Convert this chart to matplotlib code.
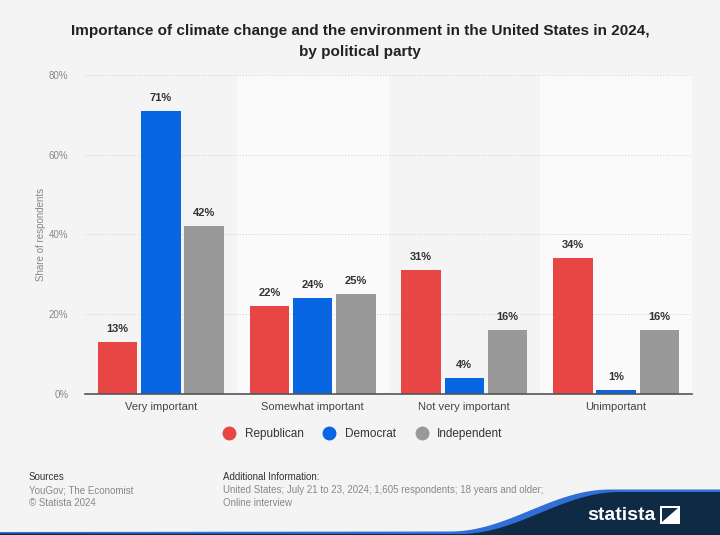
import matplotlib.pyplot as plt
import numpy as np
from matplotlib.patches import Polygon

categories = ['Very important', 'Somewhat important', 'Not very important', 'Unimportant']
parties = ['Republican', 'Democrat', 'Independent']
republican = [13, 22, 31, 34]
democrat = [71, 24, 4, 1]
independent = [42, 25, 16, 16]
yticks = [0, 20, 40, 60, 80]

colors = ['#e84545', '#0866e3', '#999999']
bg = '#f4f4f4'

plt.rcParams['font.family'] = ['Liberation Sans', 'DejaVu Sans']

fig = plt.figure(figsize=(7.2, 5.35), dpi=100, facecolor=bg)
ax = fig.add_axes([0.118, 0.2636, 0.843, 0.5964])
ax.set_facecolor(bg)

x = np.arange(len(categories))
# lighter bands behind every second category
for i in x:
    if i % 2 == 1:
        ax.axvspan(i - 0.5, i + 0.5, color='#fafafa', zorder=0)

w = 0.26
step = 0.285
for k, (vals, c) in enumerate(zip([republican, democrat, independent], colors)):
    pos = x + (k - 1) * step
    ax.bar(pos, vals, width=w, color=c, zorder=3, label=parties[k])
    for p, v in zip(pos, vals):
        ax.text(p, v + 2, f'{v}%', ha='center', va='bottom', fontsize=8,
                fontweight='bold', color='#333333', zorder=4)

ax.set_xlim(-0.5, 3.5)
ax.set_ylim(0, 80)
ax.set_yticks(yticks)
ax.set_yticklabels([f'{t}%' for t in yticks], fontsize=7, color='#888888')
ax.set_xticks(x)
ax.set_xticklabels(categories, fontsize=8, color='#444444')
ax.tick_params(axis='both', length=0, pad=6)
ax.tick_params(axis='y', pad=12)
ax.grid(axis='y', color='#cccccc', linestyle=(0, (1, 2)), linewidth=0.7, zorder=1)
for s in ['top', 'right', 'left']:
    ax.spines[s].set_visible(False)
ax.spines['bottom'].set_color('#555555')
ax.spines['bottom'].set_linewidth(1.2)
ax.spines['bottom'].set_zorder(5)
ax.set_ylabel('Share of respondents', fontsize=7, color='#888888', labelpad=2)

leg = fig.legend(handles=[plt.Line2D([], [], marker='o', linestyle='', markersize=9,
                                     color=c, label=p) for c, p in zip(colors, parties)],
                 loc='center', bbox_to_anchor=(0.5, 0.188), ncol=3, frameon=False,
                 fontsize=8.5, handletextpad=0.3, columnspacing=1.2)
for t in leg.get_texts():
    t.set_color('#333333')

fig.text(0.5, 0.955, 'Importance of climate change and the environment in the United States in 2024,\nby political party',
         ha='center', va='top', fontsize=11, fontweight='bold', color='#222222', linespacing=1.6)

fig.text(0.04, 0.108, 'Sources', fontsize=7, color='#333333', va='center')
fig.text(0.04, 0.084, 'YouGov; The Economist', fontsize=7, color='#888888', va='center')
fig.text(0.04, 0.060, '\u00a9 Statista 2024', fontsize=7, color='#888888', va='center')
fig.text(0.31, 0.108, 'Additional Information:', fontsize=7, color='#333333', va='center')
fig.text(0.31, 0.084, 'United States; July 21 to 23, 2024; 1,605 respondents; 18 years and older;',
         fontsize=7, color='#888888', va='center')
fig.text(0.31, 0.060, 'Online interview', fontsize=7, color='#888888', va='center')

# footer logo swoosh
fa = fig.add_axes([0, 0, 1, 0.1], zorder=-1)
fa.set_xlim(0, 720)
fa.set_ylim(0, 53.5)
fa.axis('off')
xs = np.linspace(450, 610, 60)
ys = 2 + 42 * (1 - np.cos(np.pi * (xs - 450) / 160)) / 2
blue_pts = [(0, 0), (0, 3)] + [(xx, yy + 1.5) for xx, yy in zip(xs, ys)] + [(720, 45.5), (720, 0)]
fa.add_patch(Polygon(blue_pts, closed=True, color='#2f6fd6', lw=0))
navy_pts = [(0, 0), (0, 1.5)] + [(xx + 10, yy - 1) for xx, yy in zip(xs, ys)] + [(720, 43), (720, 0)]
fa.add_patch(Polygon(navy_pts, closed=True, color='#0f2a44', lw=0))
fig.text(0.91, 0.037, 'statista', fontsize=14, fontweight='bold', color='white', ha='right', va='center')
fa.add_patch(Polygon([(660, 11), (680, 11), (680, 29), (660, 29)], closed=True, color='white', lw=0))
fa.add_patch(Polygon([(662, 13), (678, 27), (662, 27)], closed=True, color='#0f2a44', lw=0))

fig.savefig('out.png', dpi=100, facecolor=bg)
